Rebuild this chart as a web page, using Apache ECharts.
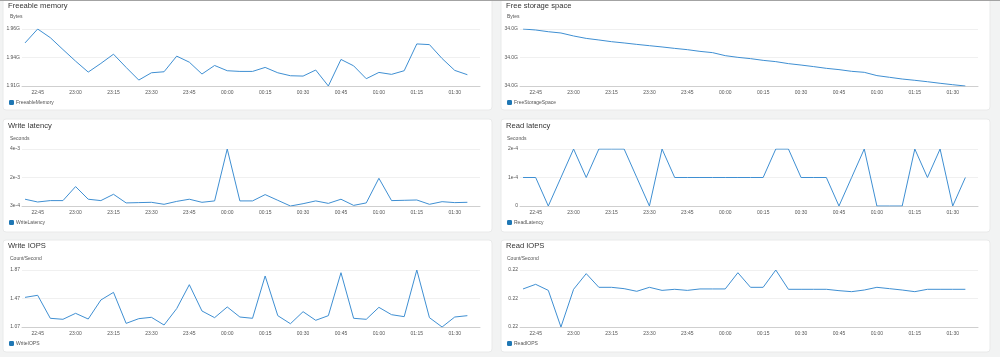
<!DOCTYPE html>
<html><head><meta charset="utf-8">
<script src="https://cdn.jsdelivr.net/npm/echarts@6/dist/echarts.min.js"></script>
<style>html,body{margin:0;padding:0;background:#f2f3f3}#c{width:1000px;height:357px}</style>
</head><body><div id="c"></div>
<script>
const times = ['22:40','22:45','22:50','22:55','23:00','23:05','23:10','23:15','23:20','23:25','23:30','23:35',
  '23:40','23:45','23:50','23:55','00:00','00:05','00:10','00:15','00:20','00:25','00:30','00:35',
  '00:40','00:45','00:50','00:55','01:00','01:05','01:10','01:15','01:20','01:25','01:30','01:35'];
const xTickLabels = ['22:45','23:00','23:15','23:30','23:45','00:00','00:15','00:30','00:45','01:00','01:15','01:30'];

const freeableMemory = [1.9478,1.96,1.9524,1.942,1.9318,1.9222,1.9298,1.9379,1.9263,1.9152,1.9216,1.9225,
  1.9362,1.9309,1.9205,1.928,1.9234,1.9228,1.9228,1.9263,1.9216,1.919,1.9187,1.924,
  1.91,1.9333,1.9277,1.9164,1.9219,1.9202,1.9234,1.9469,1.9463,1.9341,1.9237,1.9199];
const freeStorageSpace = [34.04,34.0393,34.0381,34.0372,34.0351,34.0334,34.0323,34.0311,34.0302,34.0292,34.0283,34.0274,
  34.0264,34.0255,34.0243,34.0234,34.0213,34.0201,34.0192,34.018,34.0171,34.0157,34.0147,34.0136,
  34.0124,34.0115,34.0103,34.0096,34.0073,34.0061,34.0049,34.004,34.003,34.0019,34.0009,34.0];
const writeLatency = [7.4e-4,5.6e-4,6.5e-4,6.5e-4,1.56e-3,7.4e-4,6.5e-4,1.06e-3,5.0e-4,5.2e-4,5.4e-4,4.1e-4,
  6.0e-4,7.4e-4,5.4e-4,6.3e-4,4.0e-3,6.3e-4,6.3e-4,1.04e-3,6.7e-4,3.0e-4,4.5e-4,6.3e-4,
  4.7e-4,7.4e-4,3.4e-4,5.0e-4,2.1e-3,6.5e-4,6.7e-4,6.9e-4,4.1e-4,5.8e-4,5.2e-4,5.4e-4];
const readLatency = [1e-4,1e-4,0,1e-4,2e-4,1e-4,2e-4,2e-4,2e-4,1e-4,0,2e-4,
  1e-4,1e-4,1e-4,1e-4,1e-4,1e-4,1e-4,1e-4,2e-4,2e-4,1e-4,1e-4,
  1e-4,0,1e-4,2e-4,0,0,0,2e-4,1e-4,2e-4,0,1e-4];
const writeIOPS = [1.486,1.515,1.192,1.178,1.262,1.182,1.449,1.556,1.121,1.187,1.206,1.098,
  1.328,1.664,1.295,1.201,1.351,1.21,1.192,1.786,1.229,1.116,1.285,1.164,
  1.229,1.832,1.192,1.178,1.346,1.243,1.215,1.87,1.201,1.07,1.21,1.229];
const readIOPS = [0.22134,0.22199,0.22114,0.216,0.22129,0.22349,0.22157,0.22157,0.22138,0.22101,0.22157,0.22114,
  0.22129,0.22114,0.22134,0.22134,0.22134,0.22362,0.22157,0.22157,0.224,0.22129,0.22129,0.22129,
  0.22129,0.2211,0.22096,0.22119,0.22157,0.22138,0.22119,0.22096,0.22129,0.22129,0.22129,0.22129];

const toMin = t => { const [h, m] = t.split(':').map(Number); return (h < 12 ? h + 24 : h) * 60 + m - 22 * 60; };

const panels = [
  {title:'Freeable memory', unit:'Bytes', name:'FreeableMemory', data:freeableMemory, yMin:1.91, yMax:1.96, fmt:v=>v.toFixed(2)+'G'},
  {title:'Free storage space', unit:'Bytes', name:'FreeStorageSpace', data:freeStorageSpace, yMin:34.0, yMax:34.04, fmt:v=>v.toFixed(1)+'G'},
  {title:'Write latency', unit:'Seconds', name:'WriteLatency', data:writeLatency, yMin:3e-4, yMax:4e-3, fmt:v=>v.toExponential(0).replace('+','')},
  {title:'Read latency', unit:'Seconds', name:'ReadLatency', data:readLatency, yMin:0, yMax:2e-4, fmt:v=>v===0?'0':v.toExponential(0).replace('+','')},
  {title:'Write IOPS', unit:'Count/Second', name:'WriteIOPS', data:writeIOPS, yMin:1.07, yMax:1.87, fmt:v=>v.toFixed(2)},
  {title:'Read IOPS', unit:'Count/Second', name:'ReadIOPS', data:readIOPS, yMin:0.216, yMax:0.224, fmt:v=>v.toFixed(2)}
];

const colX = [{panel:3, grid:22, text:8, unit:10, legend:9}, {panel:501, grid:520, text:506, unit:507, legend:507}];
const rowY = [{panel:-4, h:114, grid:29, title:6, unit:17.3, legend:103},
              {panel:119, h:113, grid:149, title:126, unit:138.7, legend:223},
              {panel:240, h:112, grid:270, title:246, unit:259, legend:344}];
const FONT = '"Liberation Sans", Arial, sans-serif';
const LINE = '#3f8fd2';
const xTicks = xTickLabels.map(toMin);

const option = {
  backgroundColor:'#f2f3f3', animation:false,
  title:[], legend:[], grid:[], xAxis:[], yAxis:[], series:[],
  graphic:[{type:'rect', shape:{x:0,y:0,width:1000,height:1}, style:{fill:'#a3a3a3'}, z:10}]
};

panels.forEach((p, i) => {
  const c = colX[i % 2], r = rowY[Math.floor(i / 2)];
  option.graphic.push({type:'rect', z:-10, shape:{x:c.panel, y:r.panel, width:489, height:r.h, r:3},
    style:{fill:'#ffffff', stroke:'#e9eaea', lineWidth:1}});
  option.title.push({text:p.title, left:c.text, top:r.title - 4.5, padding:0,
    textStyle:{fontSize:7.6, fontWeight:'normal', color:'#333', fontFamily:FONT}});
  option.title.push({text:p.unit, left:c.unit, top:r.unit - 3, padding:0,
    textStyle:{fontSize:5, fontWeight:'normal', color:'#555', fontFamily:FONT}});
  option.legend.push({data:[p.name], left:c.legend, top:r.legend - 3, padding:0, itemWidth:5, itemHeight:5,
    icon:'roundRect', itemStyle:{color:'#1f77b4'}, textStyle:{fontSize:5, color:'#555', fontFamily:FONT, padding:[0,0,0,-3]}});
  option.grid.push({left:c.grid, top:r.grid, width:458, height:57});
  const mid = (p.yMin + p.yMax) / 2;
  const yTicks = [p.yMin, mid, p.yMax];
  option.xAxis.push({type:'value', gridIndex:i, min:38.8, max:220,
    axisLine:{show:true, lineStyle:{color:'#cfcfcf', width:1}}, axisTick:{show:false, customValues:xTicks},
    splitLine:{show:false},
    axisLabel:{customValues:xTicks, fontSize:5, color:'#555', fontFamily:FONT, margin:4,
      formatter:v => xTickLabels[xTicks.indexOf(Math.round(v))] || ''}});
  option.yAxis.push({type:'value', gridIndex:i, min:p.yMin, max:p.yMax,
    axisLine:{show:false}, axisTick:{show:false, customValues:yTicks},
    splitLine:{show:true, lineStyle:{color:'#f0f0f0', width:1}},
    axisLabel:{customValues:yTicks, fontSize:5, color:'#555', fontFamily:FONT, margin:2, formatter:p.fmt}});
  option.series.push({type:'line', name:p.name, xAxisIndex:i, yAxisIndex:i, showSymbol:false, symbol:'none',
    color:LINE, lineStyle:{color:LINE, width:1}, data:times.map((t, k) => [toMin(t), p.data[k]])});
});

const chart = echarts.init(document.getElementById('c'));
chart.setOption(option);
</script></body></html>
